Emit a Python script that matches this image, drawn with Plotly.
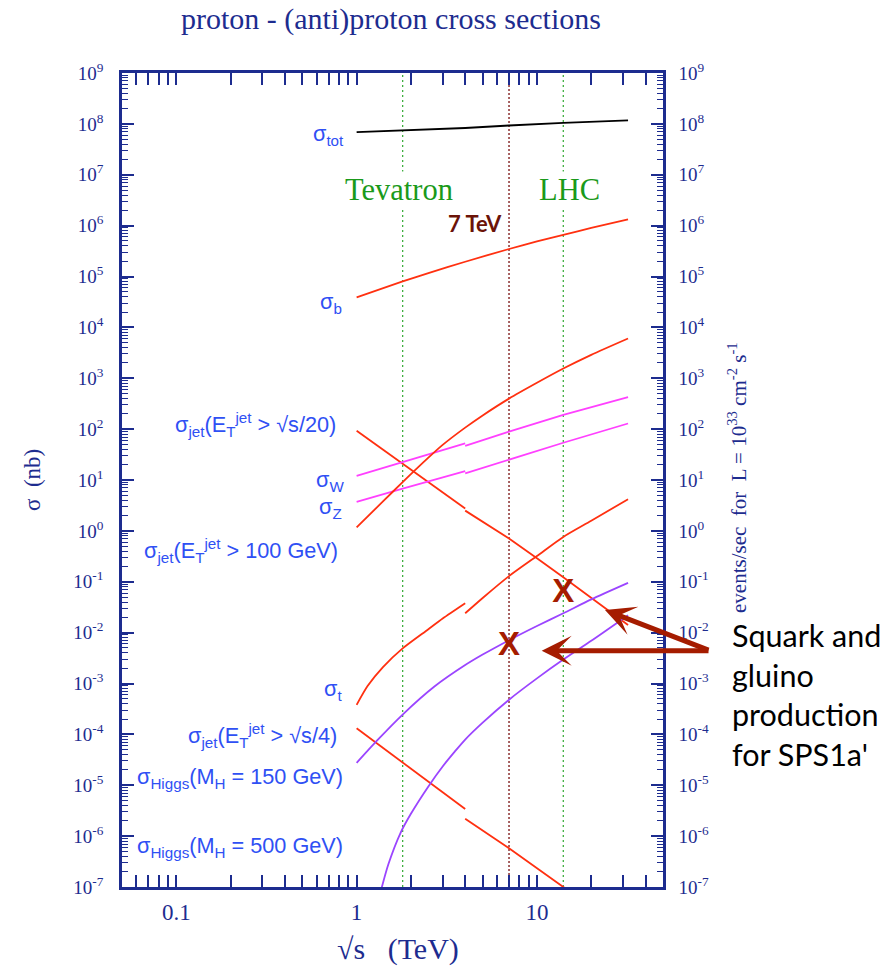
import plotly.graph_objects as go

# ---------------- data (sqrt(s) in TeV, sigma in nb) ----------------
sqrts_tot = [1, 1.8, 4, 7, 14, 32]
sigma_tot = [6.9e7, 7.4e7, 8.3e7, 9.3e7, 1.05e8, 1.17e8]

sqrts_b = [1, 1.8, 2.5, 4, 7, 10, 14, 20, 32]
sigma_b = [3.9e4, 8.0e4, 1.17e5, 1.95e5, 3.47e5, 4.9e5, 6.6e5, 9.0e5, 1.32e6]

sqrts_jet20_ppbar = [1, 1.8, 4]
sigma_jet20_ppbar = [93, 21, 2.75]
sqrts_jet20_pp = [4, 7, 10, 14, 32]
sigma_jet20_pp = [2.5, 0.71, 0.29, 0.123, 0.0141]

sqrts_W_ppbar = [1, 1.8, 4]
sigma_W_ppbar = [12, 22.4, 52.5]
sqrts_W_pp = [4, 7, 14, 32]
sigma_W_pp = [46.8, 89, 190, 427]

sqrts_Z_ppbar = [1, 1.8, 4]
sigma_Z_ppbar = [3.7, 6.8, 15]
sqrts_Z_pp = [4, 7, 14, 32]
sigma_Z_pp = [13.5, 25, 54, 129]

sqrts_jet100 = [1, 1.4, 1.8, 2.5, 3, 4, 5, 7, 10, 14, 20, 32]
sigma_jet100 = [1.17, 3.8, 9.1, 27.5, 49, 107, 186, 398, 813, 1550, 2880, 6030]

sqrts_t_ppbar = [1, 1.15, 1.4, 1.8, 2.5, 3, 4]
sigma_t_ppbar = [3.8e-4, 8.9e-4, 2.1e-3, 4.9e-3, 1.17e-2, 1.9e-2, 3.8e-2]
sqrts_t_pp = [4, 5, 7, 10, 14, 20, 32]
sigma_t_pp = [0.024, 0.048, 0.129, 0.32, 0.76, 1.58, 4.2]

sqrts_jet4_ppbar = [1, 1.8, 4]
sigma_jet4_ppbar = [1.32e-4, 2.8e-5, 3.4e-6]
sqrts_jet4_pp = [4, 7, 14, 20]
sigma_jet4_pp = [2.2e-6, 5.8e-7, 1.0e-7, 4.2e-8]

sqrts_H150 = [1, 1.3, 1.8, 2.7, 4, 5, 7, 10, 14, 20, 32]
sigma_H150 = [2.75e-5, 7.6e-5, 2.45e-4, 8.7e-4, 2.3e-3, 3.7e-3, 7.1e-3, 1.35e-2, 2.4e-2, 4.5e-2, 9.5e-2]

sqrts_H500 = [1.3, 1.38, 1.5, 1.75, 2, 2.5, 3, 3.5, 4, 5, 7, 10, 14, 20, 32]
sigma_H500 = [4.5e-8, 1.0e-7, 2.8e-7, 1.15e-6, 2.75e-6, 9.5e-6, 2.34e-5, 4.57e-5, 7.9e-5,
              1.7e-4, 4.8e-4, 1.26e-3, 2.95e-3, 6.9e-3, 2.2e-2]

sqrts_susy = [7, 14]
sigma_susy = [5.2e-3, 5.9e-2]

E_tevatron = 1.8
E_lhc = 14
E_7tev = 7

x_tickvals = [0.1, 1, 10]
x_ticktext = ["0.1", "1", "10"]
y_exponents = list(range(-7, 10))

# ---------------- style ----------------
NAVY = "#1d2c8f"
BLUE = "#2f50f4"
RED = "#ff3010"
MAGENTA = "#ff40ff"
PURPLE = "#9b45ff"
GREEN = "#1a9a1a"
DKRED = "#a51c00"
SERIF = "Liberation Serif"
SANS = "Liberation Sans"

W, H = 896, 967
L, R, T, B = 122, 663, 73, 887


def px(x):
    return (x - L) / (R - L)


def py(y):
    return (B - y) / (B - T)


fig = go.Figure()


def line(x, y, color, width=1.8, dash=None, shape="linear"):
    fig.add_trace(go.Scatter(x=x, y=y, mode="lines",
                             line=dict(color=color, width=width, dash=dash, shape=shape, smoothing=0.7),
                             hoverinfo="skip", showlegend=False))


# vertical energy lines
line([E_tevatron, E_tevatron], [1e-7, 1e9], "#3fae3f", 1.3, "2px,3px")
line([E_lhc, E_lhc], [1e-7, 1e9], "#3fae3f", 1.3, "2px,3px")
line([E_7tev, E_7tev], [1e-7, 1e9], "#7a1010", 1.3, "2px,2px")

# curves
line(sqrts_tot, sigma_tot, "black", 1.8)
line(sqrts_b, sigma_b, RED, 1.8, shape="spline")
line(sqrts_jet20_ppbar, sigma_jet20_ppbar, RED)
line(sqrts_jet20_pp, sigma_jet20_pp, RED)
line(sqrts_W_ppbar, sigma_W_ppbar, MAGENTA)
line(sqrts_W_pp, sigma_W_pp, MAGENTA)
line(sqrts_Z_ppbar, sigma_Z_ppbar, MAGENTA)
line(sqrts_Z_pp, sigma_Z_pp, MAGENTA)
line(sqrts_jet100, sigma_jet100, RED, shape="spline")
line(sqrts_t_ppbar, sigma_t_ppbar, RED, shape="spline")
line(sqrts_t_pp, sigma_t_pp, RED, shape="spline")
line(sqrts_jet4_ppbar, sigma_jet4_ppbar, RED)
line(sqrts_jet4_pp, sigma_jet4_pp, RED)
line(sqrts_H150, sigma_H150, PURPLE, shape="spline")
line(sqrts_H500, sigma_H500, PURPLE, shape="spline")

# SUSY X markers
fig.add_trace(go.Scatter(x=sqrts_susy, y=sigma_susy, mode="text", text=["X", "X"],
                         textposition="middle center",
                         textfont=dict(family=SANS, size=33, color=DKRED, weight="bold"),
                         hoverinfo="skip", showlegend=False))

# empty trace to activate the right axis
fig.add_trace(go.Scatter(x=[None], y=[None], yaxis="y2", mode="lines", hoverinfo="skip", showlegend=False))

ann = []


def label(text, xr, yc, size=21.7, color=BLUE, family=SANS, anchor="right", **kw):
    ann.append(dict(text=text, x=px(xr), y=py(yc), xref="paper", yref="paper",
                    xanchor=anchor, yanchor="middle", showarrow=False,
                    font=dict(family=family, size=size, color=color), **kw))


label("σ<sub>tot</sub>", 346, 135)
label("σ<sub>b</sub>", 344, 303)
label("σ<sub>jet</sub>(E<sub>T</sub><sup>jet</sup> > √s/20)", 338, 424)
label("σ<sub>W</sub>", 346, 481)
label("σ<sub>Z</sub>", 344, 508)
label("σ<sub>jet</sub>(E<sub>T</sub><sup>jet</sup> > 100 GeV)", 340, 550)
label("σ<sub>t</sub>", 344, 690)
label("σ<sub>jet</sub>(E<sub>T</sub><sup>jet</sup> > √s/4)", 339, 735)
label("σ<sub>Higgs</sub>(M<sub>H</sub> = 150 GeV)", 345, 778)
label("σ<sub>Higgs</sub>(M<sub>H</sub> = 500 GeV)", 345, 847)

label("Tevatron", 399, 190, size=30.5, color=GREEN, family=SERIF, anchor="center", bgcolor="white")
label("LHC", 569, 190, size=30.5, color=GREEN, family=SERIF, anchor="center", bgcolor="white")
label("<b>7 TeV</b>", 475, 224, size=22, color="#6b1308", family="Lato", anchor="center")

label("proton - (anti)proton cross sections", 391, 19, size=30, color=NAVY, family=SERIF, anchor="center")
label("√s\u00a0\u00a0\u00a0(TeV)", 398, 949, size=30, color=NAVY, family=SERIF, anchor="center")
label("σ\u00a0\u00a0(nb)", 32, 480, size=23, color=NAVY, family=SERIF, anchor="center", textangle=-90)
label("events/sec\u00a0\u00a0for\u00a0\u00a0L = 10<sup>33</sup> cm<sup>-2</sup> s<sup>-1</sup>", 737, 478,
      size=21, color=NAVY, family=SERIF, anchor="center", textangle=-90)

label("Squark and<br>gluino<br>production<br>for SPS1a'", 730, 694, size=30.5, color="black",
      family="Lato", anchor="left", align="left")

# arrows
for tip, tail in [((541.7, 650.7), (710, 650.7)), ((605, 610), (710, 650.7))]:
    ann.append(dict(text="", x=px(tip[0]), y=py(tip[1]), xref="paper", yref="paper",
                    showarrow=True, ax=tail[0] - tip[0], ay=tail[1] - tip[1],
                    arrowhead=3, arrowsize=1.0, arrowwidth=5, arrowcolor=DKRED, standoff=0))

x_minor = [v * 10 ** k for k in (-2, -1, 0, 1) for v in range(2, 10) if 0.05 <= v * 10 ** k <= 50]
y_minor = [v * 10.0 ** k for k in range(-7, 9) for v in range(2, 10)]
y_tickvals = [10.0 ** k for k in y_exponents]
y_ticktext = [f"10<sup>{k}</sup>" for k in y_exponents]

axis_common = dict(showgrid=False, zeroline=False, showline=True, linecolor=NAVY, linewidth=2.5,
                   ticks="inside", tickcolor=NAVY, tickwidth=1.5, automargin=False)

fig.update_layout(
    width=W, height=H, autosize=False,
    margin=dict(l=L, r=W - R, t=T, b=H - B, pad=0),
    paper_bgcolor="white", plot_bgcolor="white",
    showlegend=False,
    annotations=ann,
    xaxis=dict(type="log", range=[-1.30103, 1.69897], tickvals=x_tickvals, ticktext=x_ticktext,
               ticklen=12, mirror="allticks", ticklabelstandoff=3,
               tickfont=dict(family=SERIF, size=23, color=NAVY),
               minor=dict(ticks="inside", tickvals=x_minor, ticklen=7, tickcolor=NAVY, tickwidth=1.5,
                          showgrid=False),
               **axis_common),
    yaxis=dict(type="log", range=[-7, 9], tickvals=y_tickvals, ticktext=y_ticktext,
               ticklen=12, mirror=False, ticklabelstandoff=12,
               tickfont=dict(family=SERIF, size=19, color=NAVY),
               minor=dict(ticks="inside", tickvals=y_minor, ticklen=6, tickcolor=NAVY, tickwidth=1.2,
                          showgrid=False),
               **axis_common),
    yaxis2=dict(type="log", range=[-7, 9], tickvals=y_tickvals, ticktext=y_ticktext,
                overlaying="y", side="right", ticklen=12, ticklabelstandoff=9,
                tickfont=dict(family=SERIF, size=19, color=NAVY),
                minor=dict(ticks="inside", tickvals=y_minor, ticklen=6, tickcolor=NAVY, tickwidth=1.2,
                           showgrid=False),
                **axis_common),
)

fig.write_html("out.html", config={"displayModeBar": False},
               post_script="document.body.style.margin='0px';")
